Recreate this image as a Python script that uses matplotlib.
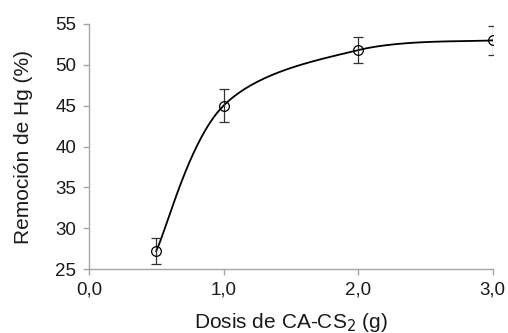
import matplotlib
matplotlib.use("Agg")
import matplotlib.pyplot as plt
import numpy as np

plt.rcParams['font.family'] = ['Liberation Sans', 'DejaVu Sans']

# Data
dose = [0.5, 1.0, 2.0, 3.0]
removal = [27.2, 45.0, 51.8, 53.0]
removal_err = [1.6, 2.05, 1.6, 1.75]

x_ticks = [0.0, 1.0, 2.0, 3.0]
x_tick_labels = ["0,0", "1,0", "2,0", "3,0"]
y_ticks = [25, 30, 35, 40, 45, 50, 55]


def excel_smooth(x, y, n=60):
    """Bezier smoothing similar to Excel's 'smoothed line'."""
    pts = np.column_stack([x, y]).astype(float)
    ext = np.vstack([pts[0], pts, pts[-1]])
    out = []
    t = np.linspace(0, 1, n)[:, None]
    for i in range(1, len(ext) - 2):
        p0, p1, p2, p3 = ext[i - 1], ext[i], ext[i + 1], ext[i + 2]
        c1 = p1 + (p2 - p0) / 6.0
        c2 = p2 - (p3 - p1) / 6.0
        seg = ((1 - t) ** 3) * p1 + 3 * ((1 - t) ** 2) * t * c1 + 3 * (1 - t) * t ** 2 * c2 + t ** 3 * p2
        out.append(seg)
    curve = np.vstack(out)
    return curve[:, 0], curve[:, 1]


fig = plt.figure(figsize=(5.08, 3.33), dpi=100)
ax = fig.add_axes([0.175, 0.192, 0.795, 0.736])

sx, sy = excel_smooth(dose, removal)
ax.plot(sx, sy, color='black', lw=1.3, zorder=2)
ax.errorbar(dose, removal, yerr=removal_err, fmt='o', mfc='none', mec='black',
            ms=7, mew=0.9, ecolor='#333333', elinewidth=0.9, capsize=3.5,
            capthick=0.9, zorder=3)

ax.set_xlim(0, 3.0)
ax.set_ylim(25, 55)
ax.set_xticks(x_ticks)
ax.set_xticklabels(x_tick_labels)
ax.set_yticks(y_ticks)

for s in ['top', 'right']:
    ax.spines[s].set_visible(False)
for s in ['left', 'bottom']:
    ax.spines[s].set_color('#a6a6a6')
    ax.spines[s].set_linewidth(1.0)
ax.tick_params(axis='both', direction='out', length=4, width=1.0,
               color='#a6a6a6', labelsize=13.5, labelcolor='#1a1a1a', pad=5)

ax.set_xlabel('Dosis de CA-CS$_2$ (g)', fontsize=15, color='#1a1a1a', labelpad=9)
ax.set_ylabel('Remoción de Hg (%)', fontsize=15, color='#1a1a1a', labelpad=16)

fig.savefig('out.png', dpi=100)
